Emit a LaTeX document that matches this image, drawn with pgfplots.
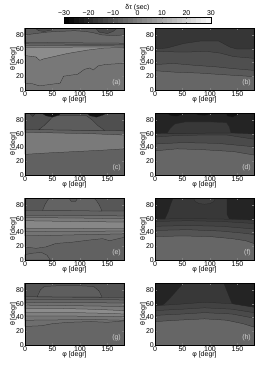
\documentclass[border=0pt]{standalone}
\usepackage{pgfplots}
\pgfplotsset{compat=1.18}
\usepgfplotslibrary{groupplots}
\usetikzlibrary{calc}
\usepackage{fontspec}
\setmainfont{Liberation Sans}
\newcommand{\fs}{\fontsize{7}{8}\selectfont}
\newcommand{\base}[1]{\addplot[fill=#1, draw=none] coordinates {(0,0) (180,0) (180,90) (0,90)} -- cycle;}
\newcommand{\fillabove}[2]{\addplot[fill=#1, draw=black!85, line width=0.25pt] coordinates {#2 (180,90) (0,90)} -- cycle;}
\newcommand{\blob}[2]{\addplot[fill=#1, draw=black!85, line width=0.25pt] coordinates {#2} -- cycle;}
\newcommand{\plabel}[1]{\node[anchor=south east, text=black!18, font=\fs, inner sep=1pt] at (rel axis cs:0.98,0.04) {#1};}
\newcommand{\cb}[3]{\addplot[fill={rgb,255:red,#3;green,#3;blue,#3}, draw=none] coordinates {(#1,0) (#2,0) (#2,1) (#1,1)} -- cycle;}
\begin{document}
\begin{tikzpicture}
\begin{groupplot}[
  group style={group size=2 by 4, horizontal sep=31pt, vertical sep=23pt},
  scale only axis, width=99pt, height=62pt,
  xmin=0, xmax=180, ymin=0, ymax=90,
  xtick={0,50,100,150}, ytick={0,20,40,60,80},
  axis on top, tick align=inside, major tick length=2pt,
  /pgf/number format/assume math mode=true,
  tick label style={font=\fs, inner sep=1pt},
  label style={font=\fs},
  xlabel={φ [degr]}, ylabel={θ [degr]},
  xlabel style={yshift=4pt}, ylabel style={yshift=-5pt},
  axis line style={line width=0.4pt},
]
% (a)
\nextgroupplot
\base{black!55}
\fillabove{black!53}{(0,10) (14,9) (26,6) (45,8) (64,10) (70,20) (96,23) (108,30) (118,32) (124,29) (133,35) (146,37) (165,38) (180,39)}
\fillabove{black!45}{(0,50) (20,48) (27,43) (33,45) (77,53) (114,58) (145,61) (180,61.5)}
\fillabove{black!52}{(0,62) (60,62.2) (120,62.3) (180,62.5)}
\fillabove{black!58}{(0,64.5) (90,64.3) (180,64)}
\fillabove{black!62}{(0,67) (90,66.5) (180,66)}
\fillabove{black!59}{(0,69) (90,68.5) (180,68)}
\fillabove{black!64}{(0,80) (20,82) (40,84) (60,85) (90,86) (110,85) (125,83) (140,80) (160,79) (180,80)}
\blob{black!70}{(18,90) (25,86) (35,85) (48,87) (55,90)}
\blob{black!70}{(128,90) (135,84) (150,82) (160,85) (168,90)}
\plabel{(a)}
% (b)
\nextgroupplot
\base{black!60}
\fillabove{black!65}{(0,28) (34,26) (82,24.5) (119,22.5) (180,19.5)}
\fillabove{black!69}{(0,37) (34,38.5) (70,36) (113,33.5) (143,31) (180,28.5)}
\fillabove{black!73}{(0,56) (52,55) (95,56) (119,53.5) (143,48.5) (180,46)}
\fillabove{black!79}{(0,59.5) (22,61) (52,67.5) (82,71) (116,71) (137,62) (149,59.5) (180,59.5)}
\plabel{(b)}
% (c)
\nextgroupplot
\base{black!62}
\fillabove{black!52}{(0,30) (40,32) (90,34) (140,36) (180,38)}
\fillabove{black!62}{(0,62) (60,61) (120,60) (180,58)}
\fillabove{black!69}{(0,66) (60,65.5) (120,65) (180,64)}
\blob{black!64}{(25,65.8) (35,72) (45,80) (52,86) (112,86) (122,80) (132,72) (145,64.5)}
\blob{black!92}{(30,90) (38,86) (50,84) (62,87) (65,90)}
\blob{black!92}{(112,90) (118,86) (130,84) (142,87) (148,90)}
\blob{black!75}{(8,90) (14,85) (20,90)}
\plabel{(c)}
% (d)
\nextgroupplot
\base{black!60}
\fillabove{black!66}{(0,35) (40,38) (82,37) (143,34) (180,29)}
\fillabove{black!71}{(0,45) (50,47) (113,46) (180,41)}
\fillabove{black!75}{(0,55) (34,57) (82,58) (131,58) (155,55) (180,52)}
\fillabove{black!86}{(0,60) (20,60.5) (80,61) (140,61) (180,59.5)}
\blob{black!78}{(22,60.5) (28,68) (36,74) (55,77) (100,77) (130,76) (135,70) (138,61)}
\blob{black!93}{(20,90) (28,86) (40,85) (52,88) (55,90)}
\blob{black!93}{(70,90) (78,87) (90,86) (100,88) (103,90)}
\blob{black!93}{(128,90) (132,85) (142,84) (150,87) (153,90)}
\plabel{(d)}
% (e)
\nextgroupplot
\base{black!62}
\blob{black!60}{(0,0) (0,8) (15,10) (30,11) (40,7) (46,0)}
\fillabove{black!58}{(0,19) (20,17) (38,19) (56,24) (87,26) (117,29) (141,31) (154,28) (180,33)}
\fillabove{black!55}{(0,35) (60,36) (120,37) (180,38)}
\fillabove{black!52}{(0,41) (90,41.5) (180,42.2)}
\fillabove{black!47}{(0,46.3) (90,46) (180,45.6)}
\fillabove{black!52}{(0,57) (90,56) (180,55)}
\fillabove{black!57}{(0,61.5) (90,61) (180,60)}
\fillabove{black!61}{(0,65) (90,64.5) (180,64)}
\fillabove{black!66}{(0,72) (40,72) (180,71)}
\blob{black!61}{(32,71.8) (36,80) (42,88) (45,90) (80,90) (84,85) (92,85) (96,90) (125,90) (130,86) (135,80) (140,71.2)}
\plabel{(e)}
% (f)
\nextgroupplot
\base{black!60}
\fillabove{black!67}{(0,34) (50,35) (100,34) (140,31) (165,28) (180,24)}
\fillabove{black!71}{(0,43) (60,44) (120,42) (160,39) (180,37)}
\fillabove{black!74}{(0,49) (60,50) (120,49) (180,45)}
\fillabove{black!77}{(0,56) (60,57) (120,56) (180,53)}
\fillabove{black!78}{(0,59.5) (60,60) (120,59.5) (180,58)}
\blob{black!86}{(0,59.5) (18,59.5) (24,70) (28,80) (33,90) (0,90)}
\blob{black!86}{(131,90) (131,66) (135,59.8) (180,58) (180,90)}
\blob{black!75}{(70,90) (73,85) (80,82) (90,81) (100,82) (107,85) (110,90)}
\plabel{(f)}
% (g)
\nextgroupplot
\base{black!60}
\fillabove{black!57}{(0,27) (30,28) (50,31) (80,33) (120,34) (150,33) (180,35)}
\fillabove{black!54}{(0,36) (60,36.5) (120,37) (180,36)}
\fillabove{black!50}{(0,42) (90,42) (180,41)}
\fillabove{black!45}{(0,47) (90,47) (150,46) (180,45)}
\fillabove{black!52}{(0,53) (60,53) (120,52) (180,50)}
\fillabove{black!56}{(0,58) (90,57) (180,56)}
\fillabove{black!60}{(0,62) (90,61.5) (180,61)}
\fillabove{black!63}{(0,66) (90,65.8) (180,65.5)}
\fillabove{black!67}{(0,70) (90,69.5) (180,69)}
\blob{black!63}{(22,70) (28,80) (35,85) (60,86) (100,86) (125,85) (135,78) (140,69.5)}
\plabel{(g)}
% (h)
\nextgroupplot
\base{black!60}
\fillabove{black!67}{(0,34) (40,36) (90,38) (130,36) (160,31) (180,26)}
\fillabove{black!71}{(0,43) (50,45) (90,47) (140,45) (180,39)}
\fillabove{black!74}{(0,50) (50,52) (90,54) (140,52) (180,47)}
\fillabove{black!78}{(0,57) (40,59) (90,62) (140,60) (180,55)}
\blob{black!86}{(0,57) (15,58.5) (25,66) (35,75) (45,84) (52,90) (0,90)}
\blob{black!86}{(125,90) (130,80) (134,72) (140,60.2) (160,57.5) (180,55) (180,90)}
\plabel{(h)}
\end{groupplot}
\coordinate (cbpos) at ($(group c1r1.north west)+(39pt,5pt)$);
% colorbar
\begin{axis}[at={(cbpos)}, anchor=south west,
  scale only axis, width=147pt, height=6pt,
  xmin=-30, xmax=30, ymin=0, ymax=1, ytick=\empty,
  xtick={-30,-20,-10,0,10,20,30}, xticklabels={−30,−20,−10,0,10,20,30},
  xticklabel pos=upper, tick align=inside, major tick length=1.5pt, axis on top,
  tick label style={font=\fs, inner sep=1pt},
  title={δτ (sec)}, title style={font=\fs, inner sep=1pt, yshift=-1pt},
  axis line style={line width=0.4pt}]
\cb{-30}{-27.9}{4}
\cb{-28}{-25.9}{12}
\cb{-26}{-23.9}{21}
\cb{-24}{-21.9}{29}
\cb{-22}{-19.9}{37}
\cb{-20}{-17.9}{45}
\cb{-18}{-15.9}{54}
\cb{-16}{-13.9}{62}
\cb{-14}{-11.9}{70}
\cb{-12}{-9.9}{78}
\cb{-10}{-7.9}{86}
\cb{-8}{-5.9}{95}
\cb{-6}{-3.9}{103}
\cb{-4}{-1.9}{111}
\cb{-2}{0.1}{119}
\cb{0}{2.1}{128}
\cb{2}{4.1}{136}
\cb{4}{6.1}{144}
\cb{6}{8.1}{152}
\cb{8}{10.1}{161}
\cb{10}{12.1}{169}
\cb{12}{14.1}{177}
\cb{14}{16.1}{185}
\cb{16}{18.1}{194}
\cb{18}{20.1}{202}
\cb{20}{22.1}{210}
\cb{22}{24.1}{218}
\cb{24}{26.1}{227}
\cb{26}{28.1}{235}
\cb{28}{30}{243}
\end{axis}
\path ($(group c1r1.north west)+(-25pt,28pt)$) rectangle ++(269pt,-373pt);
\end{tikzpicture}
\end{document}
